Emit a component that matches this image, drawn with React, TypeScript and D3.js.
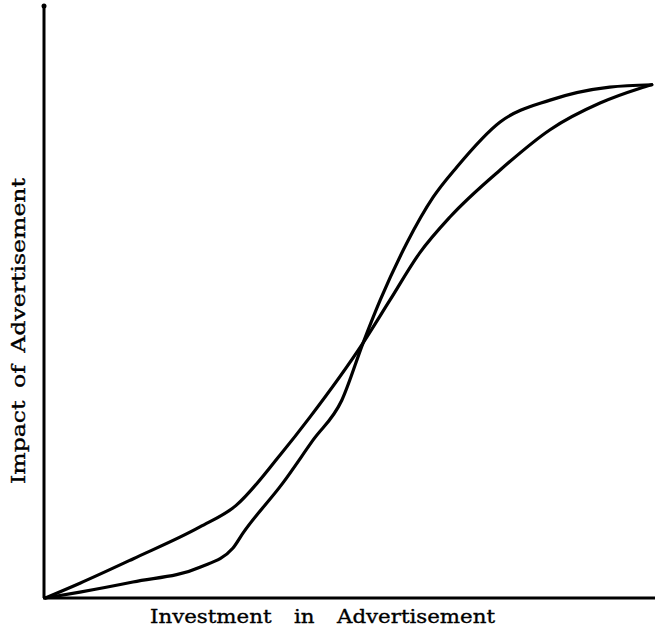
import { useEffect, useRef } from "react";
import * as d3 from "d3";

// investment (x) vs impact (y), both on a 0–100 scale
const gentleX = [0.2, 5.9, 14.6, 25.6, 31.5, 38.8, 43.7, 52.4, 56.8, 61.7, 66.7, 74.9, 83.1, 91.3, 97.9, 99.8];
const gentleY = [0, 2.5, 6.6, 12.0, 15.6, 24.2, 30.6, 43.1, 50.3, 58.3, 64.4, 72.3, 79.1, 83.6, 86.1, 86.7];

const steepX = [0.2, 5.9, 14.6, 25.6, 31.0, 32.7, 39.2, 44.2, 48.9, 52.4, 55.2, 59.6, 63.9, 67.8, 74.9, 83.1, 92.9, 99.8];
const steepY = [0, 1.0, 2.7, 5.2, 8.4, 11.0, 19.4, 26.7, 33.4, 43.1, 50.3, 60.0, 67.7, 72.8, 80.4, 84.1, 86.3, 86.7];

const xLabel = "Investment in Advertisement";
const yLabel = "Impact of Advertisement";

const W = 655;
const H = 632;

export default function App() {
  const svgRef = useRef<SVGSVGElement>(null);

  useEffect(() => {
    if (!svgRef.current) return;
    const svg = d3.select(svgRef.current);
    svg.selectAll("*").remove();

    const x = d3.scaleLinear().domain([0, 100]).range([44, 653]);
    const y = d3.scaleLinear().domain([0, 100]).range([598, 6]);

    const g = svg.append("g");

    // ── axes (plain lines, no ticks) ──
    g.append("line")
      .attr("x1", x(0)).attr("x2", x(0))
      .attr("y1", y(100)).attr("y2", y(0))
      .attr("stroke", "#000").attr("stroke-width", 3);
    g.append("line")
      .attr("x1", x(0) - 1).attr("x2", W)
      .attr("y1", y(0)).attr("y2", y(0))
      .attr("stroke", "#000").attr("stroke-width", 3);
    g.append("circle")
      .attr("cx", x(0)).attr("cy", y(100)).attr("r", 2.5)
      .attr("fill", "#000");

    // ── the two S-curves ──
    const line = d3.line<[number, number]>()
      .x(d => x(d[0]))
      .y(d => y(d[1]))
      .curve(d3.curveMonotoneX);

    const series = [
      d3.zip(gentleX, gentleY) as [number, number][],
      d3.zip(steepX, steepY) as [number, number][],
    ];
    series.forEach(pts => {
      g.append("path")
        .attr("d", line(pts))
        .attr("fill", "none")
        .attr("stroke", "#000")
        .attr("stroke-width", 3.2)
        .attr("stroke-linecap", "round")
        .attr("stroke-linejoin", "round");
    });

    // ── labels: wide word gaps, glyphs stretched to the original span ──
    const addLabel = (text: string, transform: string, target: number, gap: number) => {
      g.append("text")
        .attr("transform", transform)
        .attr("font-size", 19)
        .attr("word-spacing", gap)
        .attr("textLength", target)
        .attr("lengthAdjust", "spacingAndGlyphs")
        .attr("stroke", "#000").attr("stroke-width", 0.35)
        .style("font-family", "'DejaVu Serif', serif")
        .attr("fill", "#000")
        .text(text);
    };
    addLabel(xLabel, "translate(150,623)", 345, 14);
    addLabel(yLabel, "translate(25,484) rotate(-90)", 306, 4);
  }, []);

  return (
    <svg
      ref={svgRef}
      width={W}
      height={H}
      style={{ position: "absolute", left: 0, top: 0, background: "#fff" }}
    />
  );
}
